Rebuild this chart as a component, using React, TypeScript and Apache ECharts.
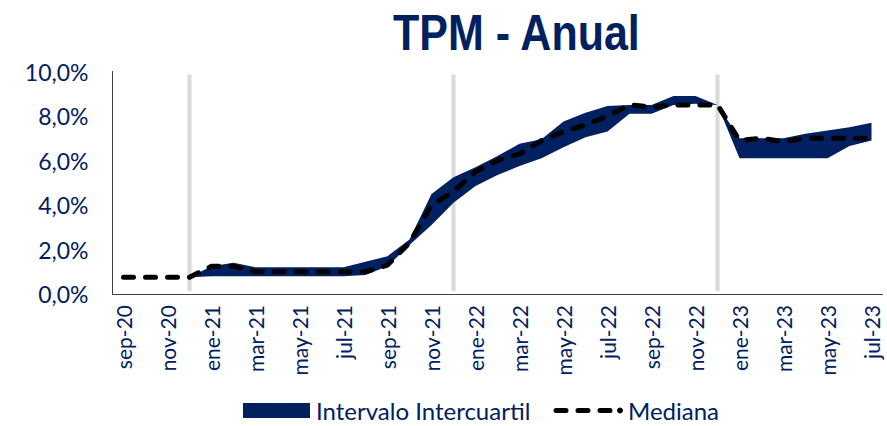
import React, { useEffect, useRef } from 'react';
import * as echarts from 'echarts';

const months = [
  'sep-20', 'oct-20', 'nov-20', 'dic-20', 'ene-21', 'feb-21', 'mar-21', 'abr-21', 'may-21', 'jun-21', 'jul-21', 'ago-21',
  'sep-21', 'oct-21', 'nov-21', 'dic-21', 'ene-22', 'feb-22', 'mar-22', 'abr-22', 'may-22', 'jun-22', 'jul-22', 'ago-22',
  'sep-22', 'oct-22', 'nov-22', 'dic-22', 'ene-23', 'feb-23', 'mar-23', 'abr-23', 'may-23', 'jun-23', 'jul-23',
];

const median = [
  0.75, 0.75, 0.75, 0.75, 1.25, 1.25, 1.0, 1.0, 1.0, 1.0, 1.0, 1.0,
  1.3, 2.3, 4.0, 4.6, 5.5, 6.0, 6.3, 6.9, 7.3, 7.6, 8.0, 8.5,
  8.4, 8.5, 8.5, 8.5, 6.9, 7.0, 6.85, 7.0, 7.0, 7.0, 7.0,
];

const p25 = [
  null, null, null, 0.75, 0.8, 0.8, 0.8, 0.8, 0.8, 0.8, 0.8, 0.85,
  1.25, 2.2, 3.1, 4.1, 4.85, 5.35, 5.75, 6.1, 6.6, 7.05, 7.3, 8.1,
  8.1, 8.5, 8.55, 8.5, 6.1, 6.1, 6.1, 6.1, 6.1, 6.65, 6.9,
];

const p75 = [
  null, null, null, 0.75, 1.25, 1.4, 1.2, 1.2, 1.2, 1.2, 1.2, 1.45,
  1.7, 2.45, 4.5, 5.25, 5.7, 6.2, 6.75, 6.95, 7.75, 8.15, 8.45, 8.5,
  8.5, 8.9, 8.9, 8.5, 7.0, 7.0, 7.0, 7.2, 7.35, 7.5, 7.7,
];

const shadedMonths = ['dic-20', 'dic-21', 'dic-22'];
const shadeTop = 10;

const yMin = 0;
const yMax = 10;
const yStep = 2;

const titleText = 'TPM - Anual';
const bandName = 'Intervalo Intercuartil';
const medianName = 'Mediana';

export default function App() {
  const ref = useRef<HTMLDivElement>(null);

  useEffect(() => {
    document.body.style.margin = '0';
    const chart = echarts.init(ref.current as HTMLDivElement, null, { renderer: 'svg' });
    const navy = '#002060';
    const band = p75.map((u, i) => {
      const l = p25[i];
      if (u == null || l == null) return null;
      return +(u - l).toFixed(4);
    });
    const shade = months.map((m) => (shadedMonths.includes(m) ? shadeTop : null));
    const legendY = 410.5;

    chart.setOption({
      animation: false,
      grid: { left: 112.5, right: 4.5, top: 71.5, bottom: 132 },
      graphic: [
        {
          type: 'text',
          x: 393,
          y: 8,
          scaleX: 0.86,
          style: {
            text: titleText,
            font: 'bold 50px "Liberation Sans", sans-serif',
            fill: navy,
            align: 'left',
            verticalAlign: 'top',
          },
        },
        {
          type: 'rect',
          shape: { x: 243, y: legendY - 7.5, width: 67, height: 15 },
          style: { fill: navy },
        },
        {
          type: 'text',
          x: 316,
          y: legendY,
          style: {
            text: bandName,
            font: '24px Lato',
            fill: navy,
            align: 'left',
            verticalAlign: 'middle',
          },
        },
        {
          type: 'line',
          shape: { x1: 556, y1: legendY, x2: 610, y2: legendY },
          style: { stroke: '#000000', lineWidth: 5, lineDash: [10, 12], lineCap: 'round' },
        },
        {
          type: 'circle',
          shape: { cx: 620, cy: legendY, r: 3 },
          style: { fill: '#000000' },
        },
        {
          type: 'text',
          x: 628,
          y: legendY,
          style: {
            text: medianName,
            font: '24px Lato',
            fill: navy,
            align: 'left',
            verticalAlign: 'middle',
          },
        },
      ],
      xAxis: {
        type: 'category',
        data: months,
        boundaryGap: true,
        z: 10,
        axisLine: { lineStyle: { color: '#404040', width: 1 } },
        axisTick: { show: false },
        axisLabel: {
          interval: 1,
          rotate: 90,
          margin: 11,
          color: navy,
          fontFamily: 'Lato',
          fontSize: 21,
        },
      },
      yAxis: {
        type: 'value',
        min: yMin,
        max: yMax,
        interval: yStep,
        z: 10,
        axisLine: { show: true, lineStyle: { color: '#404040', width: 1 } },
        axisTick: { show: false },
        splitLine: { show: false },
        axisLabel: {
          formatter: (v: number) => v.toFixed(1).replace('.', ',') + '%',
          color: navy,
          fontFamily: 'Lato',
          fontSize: 23,
          margin: 24,
        },
      },
      series: [
        {
          name: 'p25',
          type: 'line',
          stack: 'band',
          data: p25,
          symbol: 'none',
          silent: true,
          lineStyle: { opacity: 0, width: 0 },
        },
        {
          name: bandName,
          type: 'line',
          stack: 'band',
          data: band,
          symbol: 'none',
          lineStyle: { opacity: 0, width: 0 },
          itemStyle: { color: navy },
          areaStyle: { color: navy, opacity: 1 },
        },
        {
          name: 'shade',
          type: 'bar',
          data: shade,
          barWidth: 10,
          silent: true,
          itemStyle: { color: '#D9D9D9', borderColor: '#ffffff', borderWidth: 3 },
        },
        {
          name: medianName,
          type: 'line',
          data: median,
          symbol: 'none',
          z: 5,
          itemStyle: { color: '#000000' },
          lineStyle: { color: '#000000', width: 5, type: [10, 12], cap: 'round' },
        },
      ],
    });

    return () => chart.dispose();
  }, []);

  return (
    <div
      ref={ref}
      style={{ position: 'fixed', left: 0, top: 0, width: 887, height: 426, background: '#ffffff' }}
    />
  );
}
